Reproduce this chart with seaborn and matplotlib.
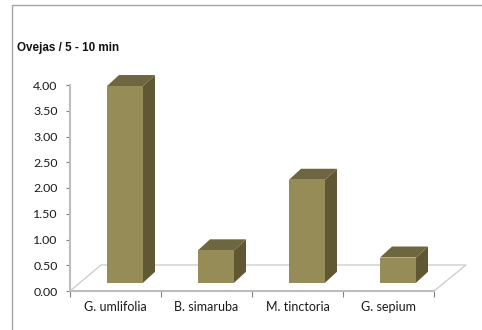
# Ovejas / 5 - 10 min bar chart with a fake 3D look
import matplotlib
matplotlib.use("Agg")
import matplotlib.pyplot as plt
from matplotlib.lines import Line2D
from matplotlib.patches import Polygon
import pandas as pd
import seaborn as sns

# Data
species = ["G. umlifolia", "B. simaruba", "M. tinctoria", "G. sepium"]
values = [3.82, 0.63, 2.00, 0.49]
y_ticks = [0.0, 0.5, 1.0, 1.5, 2.0, 2.5, 3.0, 3.5, 4.0]

sns.set_style("white")
plt.rcParams["font.family"] = ["Lato", "DejaVu Sans"]

df = pd.DataFrame({"species": species, "value": values})

W, H = 482, 330
fig = plt.figure(figsize=(W / 100, H / 100), dpi=100)
ax = fig.add_axes([70 / W, 1 - 291 / H, 364 / W, 206 / H])
ax.patch.set_alpha(0)

# Pixel to data scale for the depth effect
px_x = 1 / 91
px_y = 4 / 206
base = 0.16

sns.barplot(data=df, x="species", y="value", color="#968C58", saturation=1,
            width=36 / 91, bottom=base, ax=ax, zorder=3, clip_on=False)
ax.set_xlim(-55 / 91, 3 + 36 / 91)
ax.set_ylim(0, 4)

# Floor of the 3D chart
x0, x1 = ax.get_xlim()
floor_dx = 31 * px_x
floor_dy = 26 * px_y
floor = [(x0, 0), (x0 + floor_dx, floor_dy), (x1 + floor_dx * 1.03, floor_dy), (x1, 0)]
ax.add_line(Line2D(*zip(*floor), color="#CFCFCF", lw=1, clip_on=False, zorder=1))

# Side and top faces of each bar
dx = 12 * px_x
dy = 11 * px_y
for bar in list(ax.patches):
    left = bar.get_x()
    right = left + bar.get_width()
    bottom = bar.get_y()
    top = bottom + bar.get_height()
    bar.set_edgecolor("none")
    ax.add_patch(Polygon([(right, bottom), (right + dx, bottom + dy), (right + dx, top + dy), (right, top)],
                         facecolor="#5F5833", edgecolor="none", clip_on=False, zorder=2))
    ax.add_patch(Polygon([(left, top), (left + dx, top + dy), (right + dx, top + dy), (right, top)],
                         facecolor="#6E6640", edgecolor="none", clip_on=False, zorder=2))

# Axes
for name in ["top", "right"]:
    ax.spines[name].set_visible(False)
for name in ["left", "bottom"]:
    ax.spines[name].set_color("#BDBDBD")
    ax.spines[name].set_linewidth(1.5)

ax.set_xlabel("")
ax.set_ylabel("")
ax.set_yticks(y_ticks, [f"{t:.2f}" for t in y_ticks])
ax.set_xticks([x0 + i for i in range(5)], [""] * 5)
ax.set_xticks([i - 9.5 / 91 for i in range(4)], species, minor=True)
ax.tick_params(axis="y", length=3, width=0.8, color="#808080", labelsize=8.9, labelcolor="#1A1A1A", pad=6, left=True)
ax.tick_params(axis="x", which="major", length=4, width=0.8, color="#808080", bottom=True)
ax.tick_params(axis="x", which="minor", length=0, labelsize=9, labelcolor="#1A1A1A", pad=7)

# Title and chart frame
fig.text(17 / W, 1 - 48 / H, "Ovejas / 5 - 10 min", fontsize=8.4, fontweight="bold",
         family=["Liberation Sans Narrow", "Liberation Sans"], va="center", color="#111111")
fig.add_artist(Line2D([12 / W, 12 / W, 1], [0, 1 - 5 / H, 1 - 5 / H], color="#A6A6A6", lw=1))

plt.savefig("out.png", dpi=100)
